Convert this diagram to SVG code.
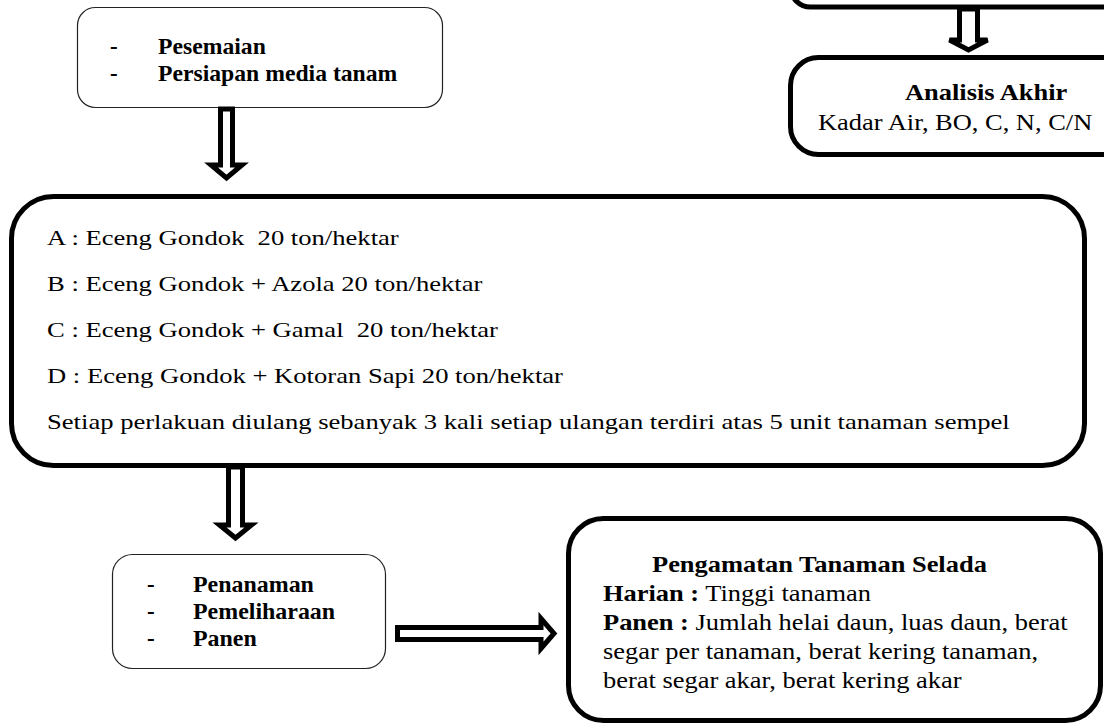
<svg xmlns="http://www.w3.org/2000/svg" width="1104" height="727" viewBox="0 0 1104 727">
<style>
  .thin { fill: #ffffff; stroke: #222222; stroke-width: 1.2; }
  .thick { fill: #ffffff; stroke: #000000; stroke-width: 5; }
  .arrow { fill: #ffffff; stroke: #000000; stroke-width: 5; stroke-linejoin: miter; }
  text { font-family: "Liberation Serif", "Times New Roman", serif; fill: #000000; white-space: pre; }
  .b { font-weight: bold; }
  .f23 { font-size: 23px; }
  .f22 { font-size: 22px; }
</style>
<rect width="1104" height="727" fill="#ffffff"/>

<g id="node-upper-right">
  <rect class="thick" x="790.5" y="-60" width="400" height="67" rx="20"/>
</g>

<g id="node-analisis">
  <rect class="thick" x="790.5" y="57.5" width="400" height="97" rx="28"/>
  <text class="b f23" transform="translate(905,100) scale(1.15,1)">Analisis Akhir</text>
  <text class="f23" transform="translate(818,130) scale(1.15,1)">Kadar Air, BO, C, N, C/N</text>
</g>

<g id="node-pesemaian">
  <rect class="thin" x="77.5" y="7.5" width="365" height="100" rx="18"/>
  <text class="b f23" x="110" y="53.5">-</text>
  <text class="b f23" transform="translate(158,53.5) scale(1.03,1)">Pesemaian</text>
  <text class="b f23" x="110" y="80.5">-</text>
  <text class="b f23" transform="translate(158,80.5) scale(1.03,1)">Persiapan media tanam</text>
</g>

<g id="node-perlakuan">
  <rect class="thick" x="11.5" y="196.5" width="1073" height="269" rx="42"/>
  <text class="f22" transform="translate(47,244.5) scale(1.21,1)">A : Eceng Gondok  20 ton/hektar</text>
  <text class="f22" transform="translate(47,290.5) scale(1.21,1)">B : Eceng Gondok + Azola 20 ton/hektar</text>
  <text class="f22" transform="translate(47,336.5) scale(1.21,1)">C : Eceng Gondok + Gamal  20 ton/hektar</text>
  <text class="f22" transform="translate(47,382.5) scale(1.21,1)">D : Eceng Gondok + Kotoran Sapi 20 ton/hektar</text>
  <text class="f22" transform="translate(47,428.5) scale(1.21,1)">Setiap perlakuan diulang sebanyak 3 kali setiap ulangan terdiri atas 5 unit tanaman sempel</text>
</g>

<g id="node-penanaman">
  <rect class="thin" x="112.5" y="554.5" width="273" height="114" rx="20"/>
  <text class="b f23" x="147" y="592">-</text>
  <text class="b f23" transform="translate(193,592) scale(1.04,1)">Penanaman</text>
  <text class="b f23" x="147" y="619">-</text>
  <text class="b f23" transform="translate(193,619) scale(1.04,1)">Pemeliharaan</text>
  <text class="b f23" x="147" y="646">-</text>
  <text class="b f23" transform="translate(193,646) scale(1.04,1)">Panen</text>
</g>

<g id="node-pengamatan">
  <rect class="thick" x="568.5" y="518.5" width="532" height="202" rx="35"/>
  <text class="b f23" transform="translate(652,572) scale(1.15,1)">Pengamatan Tanaman Selada</text>
  <text class="f23" transform="translate(603,601) scale(1.15,1)"><tspan class="b">Harian :</tspan> Tinggi tanaman</text>
  <text class="f23" transform="translate(603,630) scale(1.15,1)"><tspan class="b">Panen :</tspan> Jumlah helai daun, luas daun, berat</text>
  <text class="f23" transform="translate(603,659) scale(1.15,1)">segar per tanaman, berat kering tanaman,</text>
  <text class="f23" transform="translate(603,688) scale(1.15,1)">berat segar akar, berat kering akar</text>
</g>

<g id="connectors">
  <polygon class="arrow" points="220.5,109 232.5,109 232.5,165 242,165 226.5,178 211,165 220.5,165"/>
  <polygon class="arrow" points="959.5,9 977.5,9 977.5,40 987.5,40 968.5,50 949.5,40 959.5,40"/>
  <polygon class="arrow" points="228.5,467 242.5,467 242.5,525 251.5,525 235.5,538 219.5,525 228.5,525"/>
  <polygon class="arrow" points="397.5,627.5 541,627.5 541,618.5 554,633.5 541,648.5 541,639.5 397.5,639.5"/>
</g>
</svg>
